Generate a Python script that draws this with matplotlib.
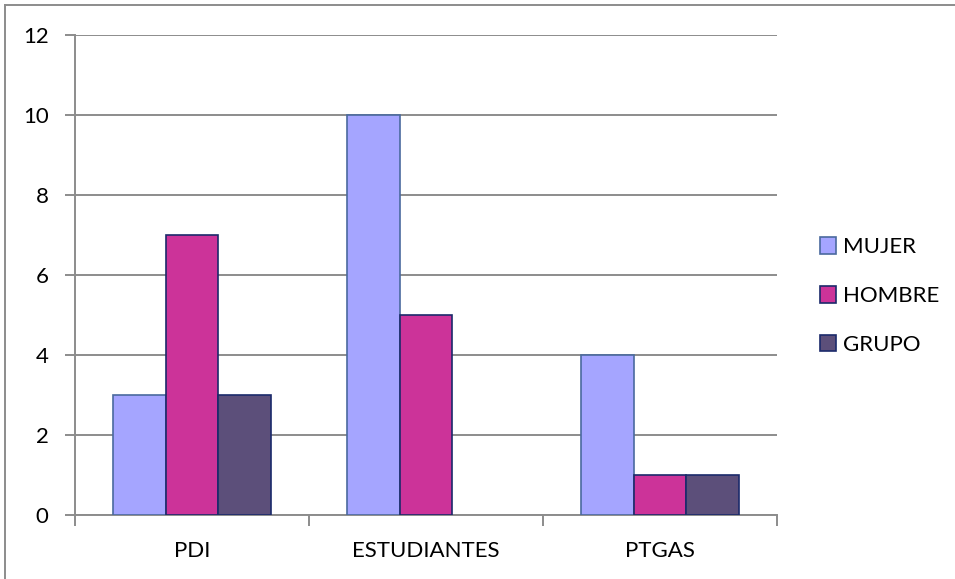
import numpy as np
import matplotlib.pyplot as plt
from matplotlib.lines import Line2D

plt.rcParams['font.family'] = ['Lato', 'DejaVu Sans']

# Data
categories = ['PDI', 'ESTUDIANTES', 'PTGAS']
series = ['MUJER', 'HOMBRE', 'GRUPO']
mujer = [3, 10, 4]
hombre = [7, 5, 1]
grupo = [3, 0, 1]
values = [mujer, hombre, grupo]

face_colors = ['#A5A5FF', '#CC3399', '#5C4F7A']
edge_colors = ['#4A6A9E', '#1B2A6B', '#1B2A6B']

fig = plt.figure(figsize=(9.55, 5.79), dpi=100)
ax = fig.add_axes([0.0785, 0.1105, 0.735, 0.829])

x = np.arange(len(categories))
w = 0.224
for i, (name, vals) in enumerate(zip(series, values)):
    bars = ax.bar(x + (i - 1) * w, vals, width=w, color=face_colors[i],
                  edgecolor=edge_colors[i], linewidth=1.2, label=name, zorder=3)
    for b, v in zip(bars, vals):
        if v == 0:
            b.set_visible(False)

ax.set_xlim(-0.5, len(categories) - 0.5)
ax.set_ylim(0, 12)
ax.set_yticks(range(0, 13, 2))
ax.yaxis.grid(True, color='#8C8C8C', linewidth=1.4, zorder=0)

ax.set_xticks(x)
ax.set_xticklabels(categories)
ax.set_xticks(np.arange(-0.5, len(categories), 1), minor=True)
ax.tick_params(axis='x', which='major', length=0, pad=19, labelsize=16)
ax.tick_params(axis='x', which='minor', length=8, width=1.4, color='#8C8C8C')
ax.tick_params(axis='y', length=7, width=1.4, color='#8C8C8C', pad=12, labelsize=16)

for side in ['top', 'right']:
    ax.spines[side].set_visible(False)
for side in ['left', 'bottom']:
    ax.spines[side].set_color('#8C8C8C')
    ax.spines[side].set_linewidth(1.4)

leg = ax.legend(loc='center left', bbox_to_anchor=(1.045, 0.456), frameon=False,
                fontsize=16, handlelength=0.75, handleheight=0.75,
                handletextpad=0.3, labelspacing=1.3, borderpad=0)

# figure border (top and left)
fig.add_artist(Line2D([0.005, 1.0], [0.991, 0.991], color='#8C8C8C', linewidth=1.4))
fig.add_artist(Line2D([0.005, 0.005], [0.0, 0.991], color='#8C8C8C', linewidth=1.4))

fig.savefig('out.png', dpi=100)
